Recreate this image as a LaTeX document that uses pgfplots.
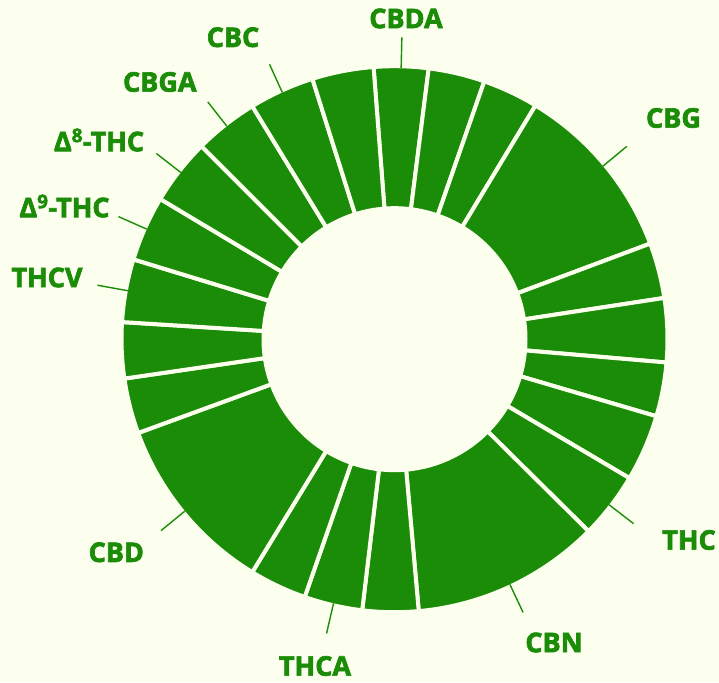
\documentclass[border=0pt]{standalone}
\usepackage{pgfplots}
\pgfplotsset{compat=1.18}
\usepackage{pgfplotstable}
\usepackage{fontspec}
\setmainfont{Open Sans}[BoldFeatures={FakeBold=2.5}]
\definecolor{bg}{RGB}{252,255,237}
\definecolor{leaf}{RGB}{27,140,7}
\tikzset{lbl/.style={font=\bfseries\fontsize{27}{30}\selectfont, text=leaf, inner sep=0pt, anchor=center}}

% segment sizes in degrees, clockwise from the first boundary
\pgfplotstableread{
value
11.6
12.0
11.9
38.4
11.8
13.6
11.5
14.2
14.1
40.2
11.9
12.4
12.2
38.5
11.8
11.9
13.4
13.9
14.1
13.6
13.9
13.1
}\segtable

\def\startang{94.4}
\xdef\cum{\startang}
\pgfplotsforeachungrouped \i in {0,...,21}{%
  \pgfplotstablegetelem{\i}{value}\of\segtable
  \pgfmathsetmacro\endang{\cum-\pgfplotsretval}%
  \expandafter\xdef\csname sa\i\endcsname{\cum}%
  \expandafter\xdef\csname ea\i\endcsname{\endang}%
  \pgfmathsetmacro\midang{(\cum+\endang)/2}%
  \expandafter\xdef\csname ma\i\endcsname{\midang}%
  \xdef\cum{\endang}%
}

\def\cx{394.5}
\def\cy{342.8}

\begin{document}
\begin{tikzpicture}
\begin{axis}[hide axis, scale only axis, width=719pt, height=682pt,
  xmin=0, xmax=719, ymin=0, ymax=682, clip=false]
\fill[bg] (axis cs:0,0) rectangle (axis cs:719,682);
\pgfplotsinvokeforeach{0,...,21}{%
  \fill[leaf, draw=bg, line width=4pt, line join=miter]
    (axis cs:\cx,\cy) ++(\csname sa#1\endcsname:273pt)
    arc[start angle=\csname sa#1\endcsname, end angle=\csname ea#1\endcsname, radius=273pt]
    -- ++(\csname ea#1\endcsname:-142pt)
    arc[start angle=\csname ea#1\endcsname, end angle=\csname sa#1\endcsname, radius=131pt]
    -- cycle;
}
\pgfplotsinvokeforeach{0,3,8,9,11,13,16,17,18,19,20}{%
  \draw[leaf, line width=1.4pt] (axis cs:\cx,\cy) ++(\csname ma#1\endcsname:271pt) -- ++(\csname ma#1\endcsname:31pt);
}
\node[lbl] at (axis cs:406,663.5) {CBDA};
\node[lbl] at (axis cs:673.5,564) {CBG};
\node[lbl] at (axis cs:689,142) {THC};
\node[lbl] at (axis cs:554,39.5) {CBN};
\node[lbl] at (axis cs:315,16) {THCA};
\node[lbl] at (axis cs:116.3,129.7) {CBD};
\node[lbl] at (axis cs:47,404.5) {THCV};
\node[lbl] at (axis cs:64.5,476) {Δ\textsuperscript{9}-THC};
\node[lbl] at (axis cs:99,542) {Δ\textsuperscript{8}-THC};
\node[lbl] at (axis cs:159.8,600) {CBGA};
\node[lbl] at (axis cs:233,644.7) {CBC};
\end{axis}
\end{tikzpicture}
\end{document}
